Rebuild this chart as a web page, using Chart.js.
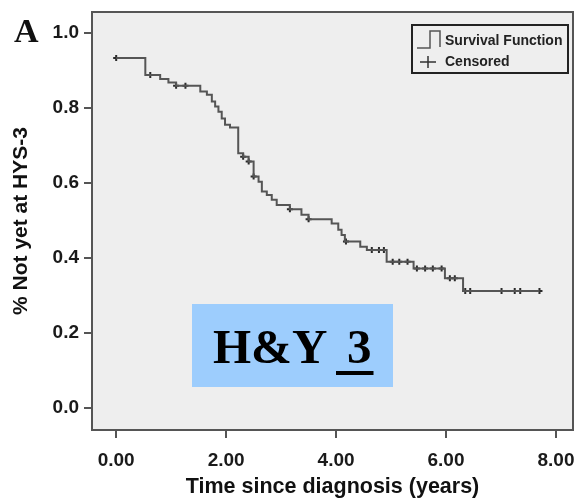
<!DOCTYPE html>
<html>
<head>
<meta charset="utf-8">
<script src="https://cdn.jsdelivr.net/npm/chart.js@4"></script>
<style>
html,body{margin:0;padding:0;background:#fff;}
#wrap{position:relative;width:580px;height:500px;}
</style>
</head>
<body>
<div id="wrap"><canvas id="c" width="580" height="500"></canvas></div>
<script>
// ---- data ----
const eventTimes = [0, 0.53, 0.80, 0.95, 1.09, 1.53, 1.65, 1.74, 1.80, 1.86, 1.92, 1.98, 2.07, 2.22, 2.31, 2.41, 2.50, 2.59, 2.65, 2.74, 2.83, 2.92, 3.16, 3.37, 3.50, 3.92, 4.04, 4.10, 4.16, 4.44, 4.56, 4.92, 5.41, 5.98, 6.31, 7.70];
const survival   = [0.933, 0.888, 0.877, 0.868, 0.859, 0.844, 0.835, 0.817, 0.804, 0.790, 0.772, 0.755, 0.748, 0.679, 0.670, 0.657, 0.617, 0.603, 0.577, 0.568, 0.555, 0.541, 0.530, 0.515, 0.503, 0.492, 0.475, 0.461, 0.444, 0.430, 0.421, 0.390, 0.372, 0.346, 0.312, 0.312];
const censorTimes  = [0, 0.62, 1.09, 1.26, 2.31, 2.41, 2.50, 3.16, 3.50, 4.18, 4.65, 4.78, 4.87, 5.03, 5.15, 5.30, 5.47, 5.62, 5.76, 5.92, 6.07, 6.16, 6.35, 6.44, 7.01, 7.25, 7.35, 7.70];
const censorValues = [0.933, 0.888, 0.859, 0.859, 0.670, 0.657, 0.617, 0.530, 0.503, 0.444, 0.421, 0.421, 0.421, 0.390, 0.390, 0.390, 0.372, 0.372, 0.372, 0.372, 0.346, 0.346, 0.312, 0.312, 0.312, 0.312, 0.312, 0.312];
const xTicks = [0, 2, 4, 6, 8];
const yTicks = [0, 0.2, 0.4, 0.6, 0.8, 1.0];
const xTitle = 'Time since diagnosis (years)';
const yTitle = '% Not yet at HYS-3';
const legendLabels = ['Survival Function', 'Censored'];
const panelLabel = 'A';
const boxLabel = 'H&Y';
const boxNumber = '3';

const SANS = '"Liberation Sans", Arial, sans-serif';
const SERIF = '"Liberation Serif", "Times New Roman", serif';
const LINE = '#555555';

const decor = {
  id: 'decor',
  beforeDraw(chart) {
    const {ctx, chartArea: a} = chart;
    ctx.save();
    ctx.fillStyle = '#eeeeee';
    ctx.fillRect(a.left, a.top, a.right - a.left, a.bottom - a.top);
    ctx.restore();
  },
  afterDraw(chart) {
    const {ctx, chartArea: a} = chart;
    ctx.save();
    // plot frame
    ctx.strokeStyle = '#555555';
    ctx.lineWidth = 2;
    ctx.strokeRect(a.left, a.top, a.right - a.left, a.bottom - a.top);

    // legend
    const lx = 412, ly = 25, lw = 156, lh = 48;
    ctx.fillStyle = '#eeeeee';
    ctx.fillRect(lx, ly, lw, lh);
    ctx.strokeStyle = '#222222';
    ctx.lineWidth = 2;
    ctx.strokeRect(lx, ly, lw, lh);
    ctx.strokeStyle = LINE;
    ctx.lineWidth = 1.5;
    ctx.beginPath();
    ctx.moveTo(lx + 5, ly + 23);
    ctx.lineTo(lx + 18, ly + 23);
    ctx.lineTo(lx + 18, ly + 6);
    ctx.lineTo(lx + 28, ly + 6);
    ctx.lineTo(lx + 28, ly + 22);
    ctx.stroke();
    ctx.strokeStyle = '#333333';
    ctx.beginPath();
    ctx.moveTo(lx + 8, ly + 37); ctx.lineTo(lx + 24, ly + 37);
    ctx.moveTo(lx + 16, ly + 31); ctx.lineTo(lx + 16, ly + 43);
    ctx.stroke();
    ctx.fillStyle = '#222222';
    ctx.font = 'bold 14px ' + SANS;
    ctx.textBaseline = 'middle';
    ctx.textAlign = 'left';
    ctx.fillText(legendLabels[0], lx + 33, ly + 16);
    ctx.fillText(legendLabels[1], lx + 33, ly + 37);

    // panel letter
    ctx.fillStyle = '#111111';
    ctx.font = 'bold 34px ' + SERIF;
    ctx.textBaseline = 'alphabetic';
    ctx.fillText(panelLabel, 14, 42);

    // H&Y box
    ctx.fillStyle = '#9dcdfd';
    ctx.fillRect(192, 304, 201, 83);
    ctx.fillStyle = '#000000';
    ctx.font = 'bold 49px ' + SERIF;
    ctx.fillText(boxLabel, 213, 363);
    const nx = 347;
    ctx.fillText(boxNumber, nx, 363);
    const nw = ctx.measureText(boxNumber).width;
    ctx.fillRect(nx - 11, 371, nw + 13, 4);
    ctx.restore();
  }
};

new Chart(document.getElementById('c'), {
  data: {
    datasets: [
      {
        type: 'line',
        label: legendLabels[0],
        data: eventTimes.map((t, i) => ({x: t, y: survival[i]})),
        stepped: true,
        borderColor: LINE,
        borderWidth: 2,
        pointRadius: 0,
        fill: false
      },
      {
        type: 'scatter',
        label: legendLabels[1],
        data: censorTimes.map((t, i) => ({x: t, y: censorValues[i]})),
        pointStyle: 'cross',
        pointRadius: 3,
        borderColor: '#2a2a2a',
        backgroundColor: '#2a2a2a',
        borderWidth: 2,
        showLine: false
      }
    ]
  },
  options: {
    responsive: false,
    animation: false,
    layout: {padding: {left: 0, right: 7, top: 12, bottom: 0}},
    plugins: {legend: {display: false}, tooltip: {enabled: false}},
    scales: {
      x: {
        type: 'linear',
        min: -0.44, max: 8.31,
        afterBuildTicks(s) { s.ticks = xTicks.map(v => ({value: v})); },
        afterFit(s) { s.height = 70; s.paddingLeft = 0; s.paddingRight = 0; },
        ticks: {
          callback: v => Number(v).toFixed(2),
          font: {family: SANS, size: 19, weight: 'bold'},
          color: '#1a1a1a',
          padding: 11,
          maxRotation: 0
        },
        grid: {drawOnChartArea: false, drawTicks: true, tickLength: 8, color: '#555555', lineWidth: 2},
        border: {display: false},
        title: {display: true, text: xTitle, font: {family: SANS, size: 21.5, weight: 'bold'}, color: '#111111', padding: {top: 0, bottom: 0}}
      },
      y: {
        type: 'linear',
        min: -0.0587, max: 1.056,
        afterBuildTicks(s) { s.ticks = yTicks.map(v => ({value: v})); },
        afterFit(s) { s.width = 92; s.paddingTop = 0; s.paddingBottom = 0; },
        ticks: {
          callback: v => Number(v).toFixed(1),
          font: {family: SANS, size: 19, weight: 'bold'},
          color: '#1a1a1a',
          padding: 5
        },
        grid: {drawOnChartArea: false, drawTicks: true, tickLength: 8, color: '#555555', lineWidth: 2},
        border: {display: false},
        title: {display: true, text: yTitle, font: {family: SANS, size: 21, weight: 'bold'}, color: '#111111', padding: {top: 9, bottom: 0}}
      }
    }
  },
  plugins: [decor]
});
</script>
</body>
</html>
